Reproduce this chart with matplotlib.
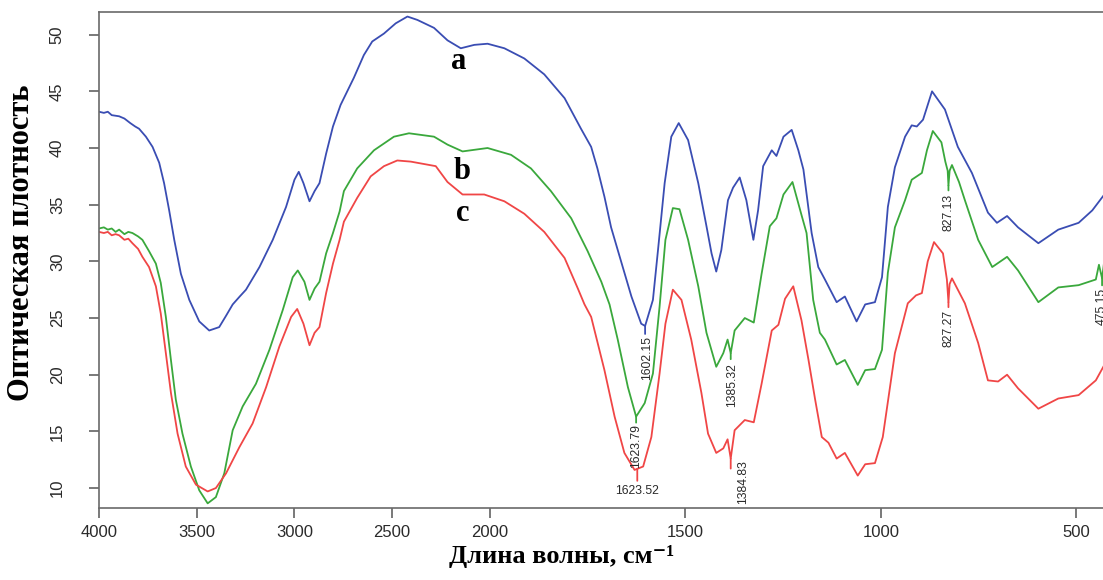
import numpy as np
import matplotlib
matplotlib.use("Agg")
import matplotlib.pyplot as plt
from matplotlib.ticker import FixedLocator

# ---------------- data ----------------
x_a = [4000, 3975, 3955, 3935, 3897, 3870, 3840, 3815, 3795, 3760, 3726, 3692, 3667, 3641,
       3615, 3581, 3538, 3487, 3436, 3385, 3350, 3316, 3280, 3248, 3179, 3111, 3043, 3000,
       2978, 2954, 2923, 2897, 2872, 2838, 2803, 2764, 2730, 2696, 2645, 2602, 2542, 2482,
       2422, 2371, 2286, 2217, 2149, 2080, 2012, 1963, 1912, 1861, 1809, 1767, 1741, 1725,
       1707, 1690, 1673, 1638, 1613, 1603, 1583, 1570, 1553, 1536, 1517, 1493, 1467, 1446,
       1433, 1421, 1408, 1391, 1378, 1361, 1344, 1326, 1314, 1301, 1279, 1267, 1249, 1228,
       1211, 1198, 1177, 1160, 1143, 1113, 1092, 1062, 1040, 1015, 997, 982, 964, 938, 921,
       908, 892, 869, 836, 803, 767, 726, 703, 677, 649, 597, 546, 494, 459, 426]
y_a = [43.2, 43.1, 43.2, 42.9, 42.8, 42.6, 42.2, 41.9, 41.7, 41.0, 40.1, 38.7, 36.9, 34.5,
       31.9, 28.9, 26.6, 24.7, 23.9, 24.2, 25.2, 26.2, 26.9, 27.5, 29.5, 31.9, 34.8, 37.2,
       37.9, 36.9, 35.3, 36.2, 36.9, 39.5, 41.9, 43.8, 45.0, 46.2, 48.2, 49.4, 50.1, 51.0,
       51.6, 51.3, 50.6, 49.5, 48.8, 49.1, 49.2, 48.8, 47.9, 46.5, 44.4, 41.7, 40.1, 38.2,
       35.7, 33.0, 31.0, 26.9, 24.5, 24.3, 26.6, 31.0, 36.9, 41.0, 42.2, 40.7, 36.9, 33.1,
       30.7, 29.1, 31.0, 35.4, 36.5, 37.4, 35.4, 31.9, 34.5, 38.4, 39.8, 39.3, 41.0, 41.6,
       39.8, 38.1, 32.5, 29.5, 28.4, 26.4, 26.9, 24.7, 26.2, 26.4, 28.6, 34.8, 38.3, 41.0, 42.0,
       41.9, 42.5, 45.0, 43.4, 40.1, 37.8, 34.3, 33.4, 34.0, 33.0, 31.6, 32.8, 33.4, 34.5, 36.0]

x_b = [4000, 3975, 3955, 3935, 3915, 3897, 3870, 3850, 3829, 3800, 3778, 3744, 3709, 3684,
       3658, 3632, 3607, 3573, 3530, 3487, 3444, 3402, 3359, 3316, 3265, 3197, 3128, 3060,
       3009, 2983, 2949, 2923, 2897, 2872, 2838, 2803, 2769, 2747, 2679, 2593, 2491, 2414,
       2286, 2217, 2140, 2012, 1946, 1895, 1844, 1792, 1750, 1715, 1694, 1673, 1647, 1626,
       1604, 1583, 1566, 1551, 1532, 1515, 1493, 1467, 1446, 1421, 1403, 1392, 1384, 1374,
       1348, 1325, 1305, 1284, 1267, 1249, 1226, 1203, 1190, 1173, 1156, 1143, 1113, 1092,
       1059, 1040, 1015, 997, 982, 964, 938, 921, 895, 882, 867, 845, 835, 829, 827, 824, 818,
       800, 785, 751, 715, 677, 649, 597, 546, 494, 450, 442, 434, 426]
y_b = [32.9, 33.0, 32.8, 32.9, 32.6, 32.8, 32.4, 32.6, 32.5, 32.2, 31.9, 30.9, 29.8, 28.1,
       25.1, 21.3, 17.8, 14.8, 11.9, 9.8, 8.65, 9.2, 11.3, 15.1, 17.2, 19.2, 22.2, 25.7,
       28.6, 29.2, 28.2, 26.6, 27.6, 28.2, 30.7, 32.5, 34.4, 36.2, 38.2, 39.8, 41.0, 41.3,
       41.0, 40.3, 39.7, 40.0, 39.4, 38.2, 36.2, 33.8, 30.9, 28.2, 26.2, 23.1, 18.9, 16.3,
       17.5, 20.1, 26.0, 31.9, 34.7, 34.6, 31.9, 27.8, 23.7, 20.7, 21.9, 23.1, 21.9, 23.9,
       25.0, 24.6, 28.9, 33.1, 33.8, 35.9, 37.0, 34.1, 32.5, 26.6, 23.7, 23.1, 20.9, 21.3,
       19.1, 20.4, 20.5, 22.2, 29.0, 33.0, 35.4, 37.2, 37.8, 39.8, 41.5, 40.5, 38.8, 38.0, 36.7, 38.0, 38.5,
       37.0, 35.4, 31.9, 29.5, 30.4, 29.2, 26.4, 27.7, 27.9, 28.4, 29.7, 28.5, 30.7]

x_c = [4000, 3975, 3955, 3935, 3915, 3897, 3870, 3850, 3829, 3800, 3778, 3744, 3709, 3684,
       3658, 3632, 3598, 3556, 3504, 3444, 3402, 3350, 3282, 3214, 3145, 3077, 3017, 2986,
       2954, 2923, 2897, 2872, 2838, 2803, 2769, 2747, 2679, 2610, 2542, 2474, 2405, 2277,
       2217, 2140, 2029, 1963, 1912, 1861, 1809, 1775, 1758, 1741, 1707, 1681, 1656, 1630,
       1608, 1587, 1566, 1551, 1532, 1510, 1485, 1459, 1442, 1421, 1403, 1392, 1384, 1374,
       1348, 1325, 1305, 1279, 1262, 1245, 1224, 1203, 1185, 1168, 1151, 1134, 1113, 1092,
       1059, 1040, 1015, 995, 964, 931, 910, 895, 880, 864, 841, 831, 827, 824, 818, 785, 751,
       726, 700, 677, 649, 597, 546, 494, 450, 426]
y_c = [32.6, 32.5, 32.6, 32.3, 32.4, 32.3, 31.9, 32.0, 31.6, 31.1, 30.4, 29.5, 27.8, 25.4,
       21.9, 18.4, 14.8, 11.9, 10.3, 9.7, 10.0, 11.3, 13.6, 15.7, 18.9, 22.5, 25.1, 25.8,
       24.5, 22.6, 23.7, 24.2, 27.2, 29.8, 31.9, 33.5, 35.6, 37.5, 38.4, 38.9, 38.8, 38.4,
       37.0, 35.9, 35.9, 35.3, 34.2, 32.6, 30.3, 27.6, 26.2, 25.1, 20.4, 16.3, 13.1, 11.6,
       11.9, 14.5, 20.1, 24.5, 27.5, 26.6, 23.1, 18.4, 14.8, 13.1, 13.5, 14.3, 12.6, 15.1,
       16.0, 15.8, 19.2, 23.9, 24.4, 26.7, 27.8, 24.8, 21.3, 17.8, 14.5, 14.0, 12.6, 13.1,
       11.1, 12.1, 12.2, 14.5, 21.9, 26.3, 27.0, 27.2, 30.0, 31.7, 30.7, 28.4, 26.4, 28.0, 28.5, 26.3, 22.8,
       19.5, 19.4, 20.0, 18.8, 17.0, 17.9, 18.2, 19.5, 21.0]

series_names = ["a", "b", "c"]
series_colors = ["#3a4db3", "#3aa83c", "#f04646"]

# peak annotations: (series, wavenumber position, label text)
peak_series = ["a", "b", "c", "b", "c", "b", "c", "b"]
peak_pos = [1603, 1626, 1623, 1384, 1384, 827, 827, 434]
peak_text = ["1602.15", "1623.79", "1623.52", "1385.32", "1384.83", "827.13", "827.27", "475.15"]

x_ticks = [4000, 3500, 3000, 2500, 2000, 1500, 1000, 500]
y_ticks = [10, 15, 20, 25, 30, 35, 40, 45, 50]

# ---------------- figure ----------------
W, H = 1103, 580
fig = plt.figure(figsize=(W / 100, H / 100), dpi=100)
ax = fig.add_axes([99 / W, 1 - 508 / H, 1 - 99 / W + 0.002, (508 - 12) / H])


def fwd(x):
    x = np.asarray(x, dtype=float)
    return np.where(x >= 2000, x, 2 * x - 2000)


def inv(u):
    u = np.asarray(u, dtype=float)
    return np.where(u >= 2000, u, (u + 2000) / 2)


ax.set_xscale("function", functions=(fwd, inv))

data = {"a": (x_a, y_a), "b": (x_b, y_b), "c": (x_c, y_c)}
colors = dict(zip(series_names, series_colors))
for name in series_names:
    xs, ys = data[name]
    ax.plot(xs, ys, color=colors[name], lw=1.3, solid_joinstyle="round")

ax.set_xlim(4000, 426)
ax.set_ylim(8.24, 52.0)
ax.xaxis.set_major_locator(FixedLocator(x_ticks))
ax.yaxis.set_major_locator(FixedLocator(y_ticks))
ax.set_xticklabels([str(t) for t in x_ticks])
ax.set_yticklabels([str(t) for t in y_ticks])

for side in ["left", "bottom", "top"]:
    ax.spines[side].set_color("#6a6a6a")
    ax.spines[side].set_linewidth(1.2)
ax.spines["right"].set_visible(False)

ax.tick_params(axis="both", direction="out", length=7, width=1.1, color="#555555",
               labelsize=12, labelcolor="#2a2a2a")
ax.tick_params(axis="x", pad=5.5)
ax.tick_params(axis="y", pad=23)
for lab in ax.get_yticklabels():
    lab.set_rotation(90)
    lab.set_va("center")
    lab.set_ha("center")
for lab in ax.get_xticklabels() + ax.get_yticklabels():
    lab.set_family("Liberation Sans")

# series letters
letter_pos = {"a": (2159, 47.6), "b": (2144, 37.9), "c": (2138, 34.2)}
for name in series_names:
    lx, ly = letter_pos[name]
    ax.text(lx, ly, name, fontsize=22, fontweight="bold", family="Liberation Serif",
            ha="center", va="center", color="black")

# peak annotations
ann_style = {
    "1602.15": dict(line=8, gap=10, dx=2, rot=90),
    "1623.79": dict(line=6, gap=7, dx=0, rot=90),
    "1623.52": dict(line=12, gap=16, dx=0, rot=0),
    "1385.32": dict(line=6, gap=10, dx=1, rot=90),
    "1384.83": dict(line=10, gap=2, dx=12, rot=90),
    "827.13": dict(line=5, gap=8, dx=0, rot=90),
    "827.27": dict(line=5, gap=8, dx=0, rot=90),
    "475.15": dict(line=7, gap=10, dx=0, rot=90),
}
for s, xp, txt in zip(peak_series, peak_pos, peak_text):
    xs, ys = data[s]
    yc = float(np.interp(xp, xs[::-1], ys[::-1]))
    st = ann_style[txt]
    ax.annotate("", xy=(xp, yc), xytext=(0, -st["line"]), textcoords="offset pixels",
                arrowprops=dict(arrowstyle="-", color=colors[s], lw=1.3, shrinkA=0, shrinkB=0))
    ax.annotate(txt, xy=(xp, yc), xytext=(st["dx"], -st["gap"]), textcoords="offset pixels",
                rotation=st["rot"], ha="center", va="top", fontsize=8.8,
                family="Liberation Sans", color="#2a2a2a", annotation_clip=False)

# axis titles
fig.text(562 / W, 1 - 557 / H, "Длина волны, см⁻¹", ha="center", va="center",
         fontsize=19, fontweight="bold", family=["Liberation Serif", "DejaVu Serif"])
fig.text(22 / W, 1 - 243 / H, "Оптическая плотность", ha="center", va="center",
         rotation=90, fontsize=22, fontweight="bold", family=["Liberation Serif", "DejaVu Serif"])

fig.savefig("out.png", dpi=100)
